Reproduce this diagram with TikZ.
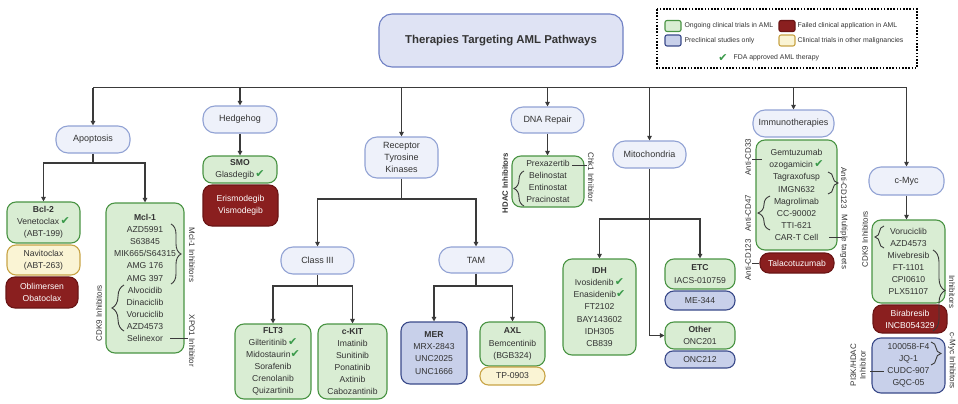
\documentclass[tikz,border=0pt]{standalone}
\usepackage{fontspec}
\setmainfont{Liberation Sans}
\newfontfamily\symfont{DejaVu Sans}
\usetikzlibrary{arrows.meta}
\usetikzlibrary{decorations.pathreplacing}
\tikzset{>={Triangle[length=4.5pt,width=4.5pt]}}
\definecolor{txtgray}{HTML}{333333}
\definecolor{linegray}{HTML}{3A3A3A}
\definecolor{catfill}{HTML}{EEF1FA}
\definecolor{catline}{HTML}{91A2D4}
\definecolor{titlefill}{HTML}{DFE3F4}
\definecolor{titleline}{HTML}{6F80C4}
\definecolor{ongfill}{HTML}{D9EDD3}
\definecolor{ongline}{HTML}{4A9444}
\definecolor{prefill}{HTML}{C8D0EA}
\definecolor{preline}{HTML}{3A4A8A}
\definecolor{failfill}{HTML}{8A1F1F}
\definecolor{failline}{HTML}{6A1515}
\definecolor{othfill}{HTML}{FAF4D4}
\definecolor{othline}{HTML}{C8A446}
\definecolor{fdagreen}{HTML}{3A9A4A}
\newcommand{\fda}{{\symfont\fontsize{11}{11}\selectfont\color{fdagreen}\char"2714}}

\begin{document}
\begin{tikzpicture}[x=1pt, y=-1pt, line width=1.1pt,
    every node/.style={text=txtgray, font=\fontsize{8.6}{12.1}\selectfont},
    titlebox/.style={draw=titleline, fill=titlefill, rounded corners=13pt, align=center, inner sep=0pt, font=\fontsize{11.4}{13}\selectfont\bfseries},
    pathbox/.style={draw=catline, fill=catfill, rounded corners=12pt, align=center, inner sep=0pt, font=\fontsize{9}{12.1}\selectfont},
    ongoing/.style={draw=ongline, fill=ongfill, rounded corners=9pt, align=center, inner sep=0pt},
    preclin/.style={draw=preline, fill=prefill, rounded corners=9pt, align=center, inner sep=0pt},
    failed/.style={draw=failline, fill=failfill, rounded corners=9pt, align=center, inner sep=0pt, text=white},
    othermal/.style={draw=othline, fill=othfill, rounded corners=9pt, align=center, inner sep=0pt},
    keybox/.style={rounded corners=2pt, minimum width=16pt, minimum height=11pt},
    keytxt/.style={anchor=west, inner sep=0pt, font=\fontsize{6.9}{8}\selectfont},
    sidelab/.style={inner sep=0pt, align=center, font=\fontsize{8}{9.5}\selectfont},
    link/.style={draw=linegray, line width=1.1pt},
    brc/.style={draw=linegray, line width=0.9pt, decorate, decoration={brace, amplitude=#1}},
    brc/.default=10pt
  ]
  \useasboundingbox (0,0) rectangle (958,404);

  % title and legend
  \node[titlebox, minimum width=244pt, minimum height=53pt] (title) at (501,40.5) {Therapies Targeting AML Pathways};
  \draw[black, line width=1.2pt, dash pattern=on 1.6pt off 1.6pt] (657,9) rectangle (917,68);
  \node[ongoing, keybox] (keyong) at (673,26) {};
  \node[keytxt] (txtong) at (684,26) {Ongoing clinical trials in AML};
  \node[preclin, keybox] (keypre) at (673,40.5) {};
  \node[keytxt] (txtpre) at (684,40.5) {Preclinical studies only};
  \node[failed, keybox] (keyfail) at (787,26) {};
  \node[keytxt] (txtfail) at (797,26) {Failed clinical application in AML};
  \node[othermal, keybox] (keyoth) at (787,40.5) {};
  \node[keytxt] (txtoth) at (797,40.5) {Clinical trials in other malignancies};
  \node[inner sep=0pt] (keyfda) at (723,58) {\fda};
  \node[keytxt] (txtfda) at (733,58) {FDA approved AML therapy};

  % pathways
  \node[pathbox, minimum width=74pt, minimum height=27pt] (apop) at (93,139.5) {Apoptosis};
  \node[pathbox, minimum width=74pt, minimum height=27pt] (hedge) at (240,119.5) {Hedgehog};
  \node[pathbox, minimum width=73pt, minimum height=41pt] (rtk) at (401.5,157.5) {Receptor\\Tyrosine\\Kinases};
  \node[pathbox, minimum width=73pt, minimum height=26pt] (dna) at (547.5,120) {DNA Repair};
  \node[pathbox, minimum width=73pt, minimum height=27pt] (mito) at (649.5,154.5) {Mitochondria};
  \node[pathbox, minimum width=81pt, minimum height=27pt] (immuno) at (793.5,123.5) {Immunotherapies};
  \node[pathbox, minimum width=75pt, minimum height=28pt] (cmyc) at (906.5,181) {c-Myc};
  \node[pathbox, minimum width=73pt, minimum height=27pt] (cls3) at (317.5,260.5) {Class III};
  \node[pathbox, minimum width=74pt, minimum height=26pt] (tam) at (476,260) {TAM};

  % apoptosis targets
  \node[ongoing, minimum width=73pt, minimum height=41pt] (bcl) at (43.5,222.5) {\textbf{Bcl-2}\\Venetoclax\,\fda\\(ABT-199)};
  \node[othermal, minimum width=73pt, minimum height=30pt] (navito) at (43.5,260) {Navitoclax\\(ABT-263)};
  \node[failed, minimum width=72pt, minimum height=31pt] (oblim) at (42,292.5) {Oblimersen\\Obatoclax};
  \node[ongoing, minimum width=78pt, minimum height=150pt] (mcl) at (145,278) {\textbf{Mcl-1}\\AZD5991\\S63845\\MIK665/S64315\\AMG 176\\AMG 397\\Alvocidib\\Dinaciclib\\Voruciclib\\AZD4573\\Selinexor};
  \draw[brc] (171,224) -- (171,284);
  \node[sidelab, rotate=-90] (mclinh) at (192,255) {Mcl-1 Inhibitors};
  \draw[brc=12pt] (124,331) -- (124,285);
  \node[sidelab, rotate=90] (mclcdk) at (99,313) {CDK9 Inhibitors};
  \draw[linegray, line width=0.9pt] (170,338.5) -- (188,338.5);
  \node[sidelab, rotate=-90] (xpo) at (192,341) {XPO1 Inhibitor};

  % hedgehog targets
  \node[ongoing, minimum width=74pt, minimum height=27pt] (smo) at (240,169.5) {\textbf{SMO}\\Glasdegib\,\fda};
  \node[failed, minimum width=75pt, minimum height=41pt] (erismo) at (240.5,205.5) {Erismodegib\\Vismodegib};

  % receptor tyrosine kinases
  \node[ongoing, minimum width=76pt, minimum height=75pt] (flt) at (273,361.5) {\textbf{FLT3}\\Gilteritinib\,\fda\\Midostaurin\fda\\Sorafenib\\Crenolanib\\Quizartinib};
  \node[ongoing, minimum width=69pt, minimum height=75pt] (ckit) at (352.5,361.5) {\textbf{c-KIT}\\Imatinib\\Sunitinib\\Ponatinib\\Axtinib\\Cabozantinib};
  \node[preclin, minimum width=66pt, minimum height=62pt] (mer) at (434,353) {\textbf{MER}\\MRX-2843\\UNC2025\\UNC1666};
  \node[ongoing, minimum width=65pt, minimum height=44pt] (axl) at (512.5,344) {\textbf{AXL}\\Bemcentinib\\(BGB324)};
  \node[othermal, rounded corners=8.5pt, minimum width=65pt, minimum height=18pt] (tp) at (512.5,376) {TP-0903};

  % DNA repair targets
  \node[ongoing, minimum width=72pt, minimum height=51pt] (dnabox) at (548,181.5) {Prexazertib\\Belinostat\\Entinostat\\Pracinostat};
  \draw[brc] (524,206) -- (524,171);
  \node[sidelab, rotate=90, font=\fontsize{7.8}{9}\selectfont\bfseries] (hdac) at (505,183) {HDAC Inhibitors};
  \draw[linegray, line width=0.9pt] (572,165) -- (587,165);
  \node[sidelab, rotate=-90] (chk) at (591,177) {Chk1 Inhibitor};

  % mitochondria targets
  \node[ongoing, minimum width=73pt, minimum height=96pt] (idh) at (599.5,307) {\textbf{IDH}\\Ivosidenib\,\fda\\Enasidenib\fda\\FT2102\\BAY143602\\IDH305\\CB839};
  \node[ongoing, minimum width=70pt, minimum height=30pt] (etc) at (700,274) {\textbf{ETC}\\IACS-010759};
  \node[preclin, minimum width=70pt, minimum height=19pt] (me) at (700,300.5) {ME-344};
  \node[ongoing, minimum width=70pt, minimum height=27pt] (other) at (700,335.5) {\textbf{Other}\\ONC201};
  \node[preclin, rounded corners=8pt, minimum width=70pt, minimum height=17pt] (onc) at (700,359.5) {ONC212};

  % immunotherapies
  \node[ongoing, minimum width=81pt, minimum height=110pt] (immbox) at (796.5,195) {Gemtuzumab\\ozogamicin\,\fda\\Tagraxofusp\\IMGN632\\Magrolimab\\CC-90002\\TTI-621\\CAR-T Cell};
  \node[failed, minimum width=74pt, minimum height=20pt] (talac) at (797,263) {Talacotuzumab};
  \node[sidelab, rotate=90] (cd33) at (748,157) {Anti-CD33};
  \draw[linegray, line width=0.9pt] (752,159) -- (762,159);
  \draw[brc] (828,172) -- (828,194);
  \node[sidelab, rotate=-90] (cd123a) at (844,188) {Anti-CD123};
  \draw[brc=12pt] (770,230) -- (770,196);
  \node[sidelab, rotate=90] (cd47) at (748,213) {Anti-CD47};
  \draw[linegray, line width=0.9pt] (829,237.4) -- (842,237.4);
  \node[sidelab, rotate=-90] (multi) at (844,242) {Multiple targets};
  \node[sidelab, rotate=90] (cd123b) at (748,260) {Anti-CD123};
  \draw[linegray, line width=0.9pt] (752,263) -- (talac.west);

  % c-Myc targets
  \node[ongoing, minimum width=73pt, minimum height=83pt] (mycbox) at (908.5,261.5) {Voruciclib\\AZD4573\\Mivebresib\\FT-1101\\CPI0610\\PLX51107};
  \node[failed, minimum width=74pt, minimum height=28pt] (birab) at (910,319) {Birabresib\\INCB054329};
  \node[preclin, minimum width=73pt, minimum height=55pt] (mycpre) at (908.5,365.5) {100058-F4\\JQ-1\\CUDC-907\\GQC-05};
  \node[sidelab, rotate=90] (mycdk) at (865,239) {CDK9 Inhibitors};
  \draw[brc=9pt] (884,248) -- (884,226);
  \draw[brc=12pt] (933,250) -- (933,331);
  \node[sidelab, rotate=-90] (betinh) at (952,292) {Inhibitors};
  \draw[brc] (931,342) -- (931,365);
  \node[sidelab, rotate=-90] (mycinh) at (952,361) {c-Myc Inhibitors};
  \node[sidelab, rotate=90] (pi3k) at (858,365) {PI3K/HDAC\\Inhibitor};
  \draw[linegray, line width=0.9pt] (870,371.6) -- (884,371.6);

  % connectors
  \coordinate (busW) at (93,87.5);
  \coordinate (busE) at (906.5,87.5);
  \draw[link] (busW) -- (busE);
  \draw[link,->] (apop.north |- busW) -- (apop.north);
  \draw[link,->] (hedge.north |- busW) -- (hedge.north);
  \draw[link,->] (rtk.north |- busW) -- (rtk.north);
  \draw[link,->] (dna.north |- busW) -- (dna.north);
  \draw[link,->] (mito.north |- busW) -- (mito.north);
  \draw[link,->] (immuno.north |- busW) -- (immuno.north);
  \draw[link,->] (cmyc.north |- busW) -- (cmyc.north);

  \coordinate (apopJ) at (93,163);
  \draw[link] (apop.south) -- (apopJ);
  \draw[link,->] (apopJ) -| (bcl.north);
  \draw[link,->] (apopJ) -| (mcl.north);
  \draw[link,->] (hedge) -- (smo);

  \coordinate (rtkJ) at (401.5,199);
  \draw[link] (rtk.south) -- (rtkJ);
  \draw[link,->] (rtkJ) -| (cls3.north);
  \draw[link,->] (rtkJ) -| (tam.north);
  \coordinate (cls3J) at (317.5,286);
  \draw[link] (cls3.south) -- (cls3J);
  \draw[link,->] (cls3J) -| (flt.north);
  \draw[link,->] (cls3J) -| (ckit.north);
  \coordinate (tamJ) at (476,286);
  \draw[link] (tam.south) -- (tamJ);
  \draw[link,->] (tamJ) -| (mer.north);
  \draw[link,->] (tamJ) -| (axl.north);

  \draw[link,->] (dna.south) -- (dna.south |- dnabox.north);

  \coordinate (mitoJ) at (649.5,219);
  \draw[link,->] (mito.south) |- (other.west);
  \draw[link,->] (mitoJ) -| (idh.north);
  \draw[link,->] (mitoJ) -| (etc.north);

  \draw[link,->] (cmyc.south) -- (cmyc.south |- mycbox.north);
\end{tikzpicture}
\end{document}
